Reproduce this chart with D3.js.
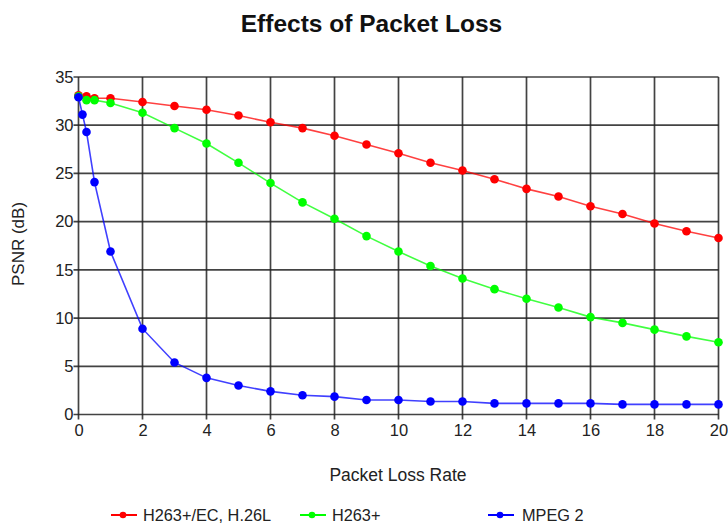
<!DOCTYPE html>
<html><head><meta charset="utf-8">
<script src="https://cdn.jsdelivr.net/npm/d3@7"></script>
<style>body{margin:0;background:#fff;}svg{display:block;font-family:Arial,"Liberation Sans",sans-serif;}</style>
</head><body><svg id="c" width="728" height="525"></svg>
<script>
const xRed = [0,0.25,0.5,1,2,3,4,5,6,7,8,9,10,11,12,13,14,15,16,17,18,19,20];
const yRed = [33.1,33.0,32.8,32.8,32.4,32.0,31.6,31.0,30.3,29.7,28.9,28.0,27.1,26.1,25.3,24.4,23.4,22.6,21.6,20.8,19.8,19.0,18.3];
const xGreen = [0,0.25,0.5,1,2,3,4,5,6,7,8,9,10,11,12,13,14,15,16,17,18,19,20];
const yGreen = [33.0,32.6,32.6,32.3,31.3,29.7,28.1,26.1,24.0,22.0,20.3,18.5,16.9,15.4,14.1,13.0,12.0,11.1,10.1,9.5,8.8,8.1,7.5];
const xBlue = [0,0.125,0.25,0.5,1,2,3,4,5,6,7,8,9,10,11,12,13,14,15,16,17,18,19,20];
const yBlue = [32.9,31.1,29.3,24.1,16.9,8.9,5.4,3.8,3.0,2.4,2.0,1.85,1.5,1.5,1.35,1.35,1.15,1.15,1.15,1.15,1.05,1.05,1.05,1.05];
const xTicks = [0,2,4,6,8,10,12,14,16,18,20];
const yTicks = [0,5,10,15,20,25,30,35];
const seriesNames = ["H263+/EC, H.26L","H263+","MPEG 2"];
const seriesColors = ["#ff0000","#00ff00","#0000ff"];

const svg = d3.select("#c");
const L=78.5, R=718.5, T=77, B=414.5;
const x = d3.scaleLinear().domain([0,20]).range([L,R]);
const y = d3.scaleLinear().domain([0,35]).range([B,T]);

svg.append("text").attr("x",371.5).attr("y",32).attr("text-anchor","middle")
  .attr("font-size",24.5).attr("font-weight","bold").attr("fill","#111").text("Effects of Packet Loss");

const grid = svg.append("g");
grid.selectAll("line.v").data(xTicks).join("line").attr("class","v")
  .attr("x1",d=>x(d)).attr("x2",d=>x(d)).attr("y1",T).attr("y2",B+5)
  .attr("stroke","#222").attr("stroke-width",1.7).attr("stroke-opacity",0.85);
grid.selectAll("line.h").data(yTicks).join("line").attr("class","h")
  .attr("y1",d=>y(d)).attr("y2",d=>y(d)).attr("x1",L-5).attr("x2",R)
  .attr("stroke","#222").attr("stroke-width",1.7).attr("stroke-opacity",0.85);

const xAxis = svg.append("g").attr("transform",`translate(0,${B})`)
  .call(d3.axisBottom(x).tickValues(xTicks).tickSize(0).tickPadding(10));
xAxis.select(".domain").remove();
xAxis.selectAll("text").attr("font-size",16.5).attr("fill","#222").attr("font-family","Arial,'Liberation Sans',sans-serif");
const yAxis = svg.append("g").attr("transform",`translate(${L},0)`)
  .call(d3.axisLeft(y).tickValues(yTicks).tickSize(0).tickPadding(5));
yAxis.select(".domain").remove();
yAxis.selectAll("text").attr("font-size",16.5).attr("fill","#222").attr("font-family","Arial,'Liberation Sans',sans-serif");

svg.append("text").attr("transform","translate(24,244) rotate(-90)").attr("text-anchor","middle")
  .attr("font-size",17).attr("fill","#222").text("PSNR (dB)");
svg.append("text").attr("x",398).attr("y",481).attr("text-anchor","middle")
  .attr("font-size",17.5).attr("fill","#222").text("Packet Loss Rate");

const series = [[xRed,yRed],[xGreen,yGreen],[xBlue,yBlue]];
const line = d3.line().x(d=>x(d[0])).y(d=>y(d[1]));
[0,1,2].forEach(i=>{
  const pts = series[i][0].map((v,j)=>[v,series[i][1][j]]);
  const g = svg.append("g");
  g.append("path").datum(pts).attr("d",line).attr("fill","none")
    .attr("stroke",seriesColors[i]).attr("stroke-width",1.6).attr("stroke-opacity",0.75);
  g.selectAll("circle").data(pts).join("circle").attr("cx",d=>x(d[0])).attr("cy",d=>y(d[1]))
    .attr("r",4.3).attr("fill",seriesColors[i]);
});

const legX = [111,300,488];
const legTextX = [143,332,522];
seriesNames.forEach((n,i)=>{
  const g = svg.append("g");
  g.append("line").attr("x1",legX[i]).attr("x2",legX[i]+26).attr("y1",515).attr("y2",515)
    .attr("stroke",seriesColors[i]).attr("stroke-width",2);
  g.append("circle").attr("cx",legX[i]+12).attr("cy",515).attr("r",3.3).attr("fill",seriesColors[i]);
  g.append("text").attr("x",legTextX[i]).attr("y",520.5).attr("font-size",16.3).attr("fill","#222").text(n);
});
</script></body></html>
